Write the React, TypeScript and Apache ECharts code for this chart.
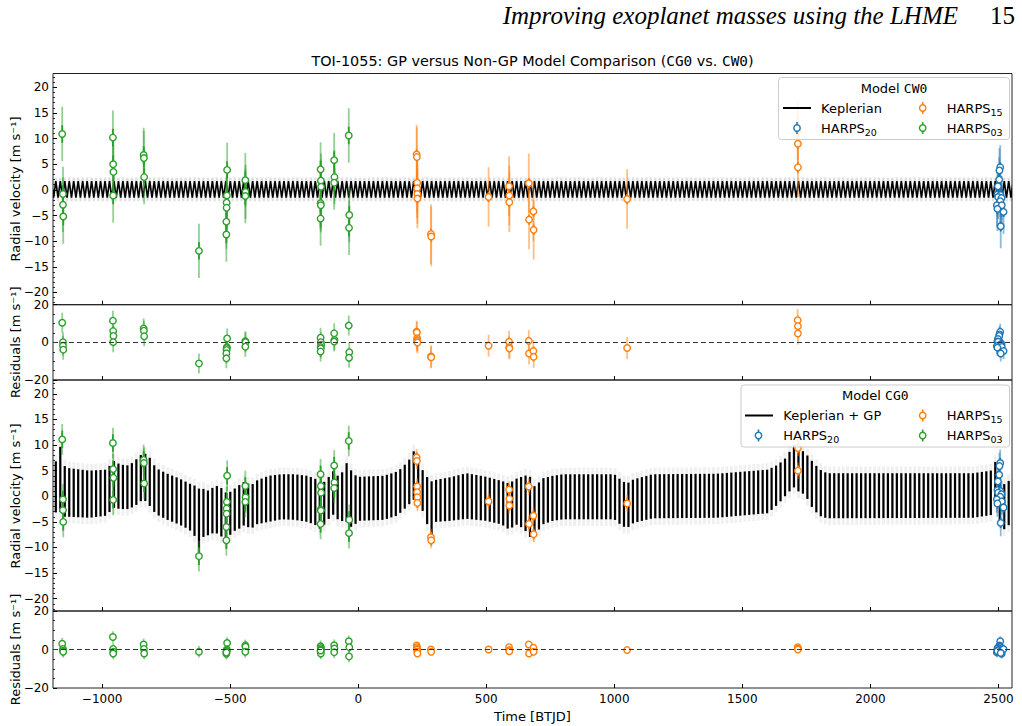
import React, { useEffect, useRef } from 'react';
import * as echarts from 'echarts';

// ---------------- axes ----------------
const X_MIN = -1192;
const X_MAX = 2553;
const X_TICKS = [-1000, -500, 0, 500, 1000, 1500, 2000, 2500];
const RV_MIN = -22.4;
const RV_MAX = 22.7;
const RV_TICKS = [-20, -15, -10, -5, 0, 5, 10, 15, 20];
const RV_MINOR = [-22, -21, -19, -18, -17, -16, -14, -13, -12, -11, -9, -8, -7, -6, -4, -3, -2, -1,
  1, 2, 3, 4, 6, 7, 8, 9, 11, 12, 13, 14, 16, 17, 18, 19, 21, 22];
const RES_MIN = -20;
const RES_MAX = 20;
const RES_TICKS = [-20, 0, 20];
const RES_MINOR = [-15, -10, -5, 5, 10, 15];

// ---------------- Keplerian model (TOI-1055 b) ----------------
const KEP_PERIOD = 17.47;
const KEP_T0 = -1181;
const KEP_TOP = 1.7;
const KEP_BOT = -1.5;

// ---------------- Keplerian + GP model envelope ----------------
const GP_T = [-1192, -1175, -1162, -1150, -1130, -1050, -985, -970, -958, -930, -895, -860, -840, -820, -790,
  -750, -700, -660, -635, -622, -608, -580, -560, -530, -513, -495, -470, -441, -420, -400, -350, -300, -250,
  -200, -170, -146, -125, -100, -80, -55, -40, -25, 0, 100, 150, 170, 200, 220, 237, 250, 265, 276, 284, 295,
  303, 358, 423, 500, 560, 589, 620, 650, 667, 690, 720, 760, 800, 1000, 1030, 1050, 1075, 1150, 1400, 1600,
  1640, 1670, 1700, 1717, 1745, 1770, 1800, 1830, 2400, 2470, 2487, 2500, 2515, 2535, 2553];
const GP_TOP = [6.5, 7.0, 10.0, 6.0, 5.5, 5.0, 5.2, 6.0, 7.0, 6.2, 6.0, 7.5, 8.5, 8.0, 5.5,
  4.5, 3.5, 2.5, 2.0, 1.5, 1.5, 1.0, 2.2, 1.5, 0.5, 1.0, 2.0, 3.0, 2.0, 3.0, 4.0, 4.3, 4.3,
  4.0, 3.5, 2.5, 3.0, 5.0, 4.0, 5.0, 7.3, 4.5, 3.8, 4.0, 4.8, 5.5, 7.2, 9.1, 6.8, 5.2, 4.2, 3.0, 2.9, 3.0,
  3.2, 3.7, 4.5, 3.8, 3.0, 2.5, 3.5, 4.0, 4.2, 1.8, 3.5, 4.0, 4.3, 4.3, 3.0, 2.5, 3.3, 4.3, 4.4, 5.2,
  6.2, 7.5, 10.0, 9.5, 8.5, 7.0, 5.3, 4.5, 4.5, 5.0, 6.8, 5.0, 2.0, 3.0, 3.0];
const GP_BOT = [-2.5, -3.5, -3.0, -4.0, -4.0, -4.2, -3.8, -3.0, -2.2, -2.5, -2.5, -1.5, -0.5, -1.5, -3.5,
  -4.5, -5.5, -6.5, -8.0, -11.0, -8.0, -7.5, -7.0, -8.0, -9.0, -7.0, -6.5, -5.5, -6.5, -5.5, -5.0, -4.5, -4.6,
  -5.0, -5.5, -6.5, -5.0, -3.5, -4.5, -5.0, -5.0, -6.2, -4.8, -4.6, -3.8, -3.0, -1.5, -0.5, -1.1, -2.7, -4.2, -7.6, -9.0, -5.5,
  -5.0, -4.8, -4.4, -4.8, -5.5, -6.5, -5.5, -6.5, -8.0, -7.6, -5.5, -4.8, -4.5, -4.5, -5.8, -6.2, -5.2, -4.3, -4.2, -3.3,
  -1.5, 0.2, 1.8, 1.0, 0.3, -2.0, -3.8, -4.3, -4.2, -3.7, -1.8, -4.0, -7.0, -5.5, -6.0];

// ---------------- HARPS03 (green) ----------------
const H03_T = [-1156, -1153, -1153, -1152, -958, -957, -956, -957, -838, -837, -836, -622, -512, -513, -514, -514,
  -515, -515, -441, -440, -441, -147, -146, -145, -147, -146, -147, -94, -93, -94, -37, -35, -36];
const H03_RV_CW0 = [10.9, -0.8, -2.9, -5.2, 10.2, 5.0, 3.5, -1.1, 6.8, 6.2, 2.5, -11.9, 3.9, -1.1, -2.5, -3.5,
  -6.2, -8.7, 1.9, -0.4, -1.2, 4.0, 1.8, 0.6, -2.6, -3.0, -5.6, 5.8, 2.5, 1.4, 10.6, -4.9, -7.4];
const H03_RES_CW0 = [10.4, 0.1, -1.8, -3.9, 11.5, 6.0, 3.4, 0.1, 7.4, 6.2, 3.2, -11.2, 2.1, -2.6, -3.1, -4.0,
  -5.8, -8.5, 0.6, 0.1, -2.3, 2.5, 0.1, -1.3, -2.5, -3.2, -4.9, 4.8, 1.3, 0.4, 8.9, -5.2, -8.2];
const H03_RV_CG0 = [11.1, -0.6, -2.7, -5.0, 10.4, 5.3, 3.6, -0.7, 7.1, 6.5, 2.5, -11.7, 4.0, -1.1, -2.4, -3.4,
  -6.0, -8.6, 2.0, -0.2, -1.1, 4.3, 2.0, 0.7, -2.6, -2.8, -5.4, 6.0, 2.7, 1.6, 10.8, -4.6, -7.2];
const H03_RES_CG0 = [3.0, 0.3, -0.6, -1.2, 6.5, 0.3, -1.2, -2.1, 2.6, 0.3, -2.1, -1.2, 3.4, 0.0, -0.6, -1.2,
  -2.2, -1.6, 2.1, 1.4, -1.2, 1.7, 0.8, 0.0, -1.2, -2.1, -0.5, 2.2, 0.5, -1.4, 4.3, 1.2, -3.6];

// ---------------- HARPS15 (orange) ----------------
const H15_T = [228, 229, 230, 230, 231, 231, 284, 285, 509, 589, 590, 590, 666, 667, 684, 685, 1050, 1716, 1717, 1717];
const H15_RV_CW0 = [6.9, 6.4, 1.4, 0.3, -0.8, -1.7, -8.6, -9.1, -1.4, 0.7, -1.1, -2.4, 1.3, -5.8, -4.2, -7.8, -1.8, 11.6, 9.0, 4.4];
const H15_RES_CW0 = [5.7, 5.2, 2.2, 1.2, 0.8, -0.1, -7.5, -7.9, -1.8, 0.3, -2.6, -3.2, 0.8, -5.9, -4.6, -7.7, -3.0, 11.8, 8.6, 4.7];
const H15_RV_CG0 = [7.6, 6.9, 1.9, 0.8, -0.2, -1.3, -8.0, -8.6, -1.0, 1.3, -0.5, -1.8, 1.9, -5.4, -3.8, -7.4, -1.4, 12.0, 9.4, 5.0];
const H15_RES_CG0 = [2.1, 1.2, 0.4, 0.0, -1.0, -2.1, 0.0, -1.2, 0.0, 1.2, -0.3, -0.9, 2.6, -2.1, 0.9, -1.2, -0.3, 1.2, 0.5, 0.0];

// ---------------- HARPS20 (blue) ----------------
const H20_T = [2507, 2504, 2503, 2498, 2496, 2508, 2499, 2512, 2507, 2494, 2513, 2496, 2520, 2509];
const H20_RV_CW0 = [4.4, 3.8, 2.0, 0.7, -0.9, -1.0, -1.4, -1.6, -2.2, -3.0, -3.0, -3.7, -4.3, -7.1];
const H20_RES_CW0 = [5.6, 4.2, 3.4, 1.8, 0.5, -0.2, 0.3, -1.0, -1.2, -2.0, -2.4, -2.8, -4.6, -5.9];
const H20_RV_CG0 = [6.5, 5.9, 4.2, 2.9, 1.2, 1.0, 0.7, 0.4, -0.1, -0.6, -1.0, -1.4, -2.2, -5.2];
const H20_RES_CG0 = [4.3, 2.1, 1.5, 0.9, 0.4, 0.0, -0.3, -0.6, -1.2, -1.5, -2.1, -0.8, 0.2, -1.8];

// ---------------- error bars (m/s) ----------------
const ERR_IN_03 = 1.7;
const ERR_IN_15 = 1.0;
const ERR_IN_20 = 1.0;
const ERR_OUT_03_CW0 = 5.3;
const ERR_OUT_15_CW0 = 5.8;
const ERR_OUT_20_CW0 = 4.3;
const ERR_OUT_03_CG0 = 3.0;
const ERR_OUT_15_CG0 = 1.6;
const ERR_OUT_20_CG0 = 2.6;

// ---------------- style ----------------
const C20 = '#1f77b4';
const C15 = '#ff7f0e';
const C03 = '#2ca02c';
const C20_L = 'rgba(31,119,180,0.5)';
const C15_L = 'rgba(255,127,14,0.5)';
const C03_L = 'rgba(44,160,44,0.5)';
const FONT = '"DejaVu Sans", sans-serif';
const MONO = '"DejaVu Sans Mono", monospace';

const PLOT_L = 53;
const PLOT_W = 959;
const GRIDS = [
  { top: 73.5, height: 231.2 },
  { top: 304.7, height: 75.3 },
  { top: 380, height: 231 },
  { top: 611, height: 77 },
];

const fmtMinus = (v: number) => (v < 0 ? '\u2212' + Math.abs(v) : String(v));

function errRender(color: string, light: string) {
  return (_params: any, api: any) => {
    const t = api.value(0), y = api.value(1), ei = api.value(2), eo = api.value(3);
    const a = api.coord([t, y + eo]);
    const b = api.coord([t, y - eo]);
    const c = api.coord([t, y + ei]);
    const d = api.coord([t, y - ei]);
    return {
      type: 'group',
      children: [
        { type: 'line', shape: { x1: a[0], y1: a[1], x2: b[0], y2: b[1] }, style: { stroke: light, lineWidth: 1.8 } },
        { type: 'line', shape: { x1: c[0], y1: c[1], x2: d[0], y2: d[1] }, style: { stroke: color, lineWidth: 1.8 } },
      ],
    };
  };
}

function keplerRender(_params: any, api: any) {
  const t0 = api.value(0), t1 = api.value(1), top = api.value(2), bot = api.value(3);
  const pts: number[][] = [];
  const halo: number[][] = [];
  let k = 0;
  for (let t = KEP_T0 - KEP_PERIOD; t <= t1 + KEP_PERIOD; t += KEP_PERIOD / 2, k++) {
    if (t < t0 - KEP_PERIOD) continue;
    const up = k % 2 === 0;
    pts.push(api.coord([t, up ? top : bot]));
    halo.push(api.coord([t, up ? top + 0.7 : bot - 0.7]));
  }
  return {
    type: 'group',
    children: [
      { type: 'polyline', shape: { points: halo }, style: { stroke: 'rgba(0,0,0,0.12)', lineWidth: 2.2, fill: 'none' } },
      { type: 'polyline', shape: { points: pts }, style: { stroke: '#000', lineWidth: 1.6, fill: 'none' } },
    ],
  };
}

function gpRender(_params: any, api: any) {
  const tS = api.value(0), tE = api.value(1);
  const topS = api.value(2), topE = api.value(3), botS = api.value(4), botE = api.value(5);
  const children: any[] = [];
  const kStart = Math.ceil((tS - KEP_T0) / KEP_PERIOD);
  for (let k = kStart; k < kStart + 1000; k++) {
    const t = KEP_T0 + k * KEP_PERIOD;
    if (t >= tE) break;
    const f = (t - tS) / (tE - tS);
    const top = topS + f * (topE - topS);
    const bot = botS + f * (botE - botS);
    const p = api.coord([t, top]);
    const q = api.coord([t, bot]);
    const ph = api.coord([t, top + 1.3]);
    const qh = api.coord([t, bot - 1.3]);
    children.push({
      type: 'rect',
      shape: { x: p[0] - 1.5, y: ph[1], width: 3.0, height: qh[1] - ph[1] },
      style: { fill: 'rgba(0,0,0,0.06)' },
    });
    children.push({
      type: 'rect',
      shape: { x: p[0] - 1.1, y: p[1], width: 2.2, height: q[1] - p[1] },
      style: { fill: '#000' },
    });
  }
  return { type: 'group', children };
}

function errSeries(panel: number, t: number[], v: number[], eIn: number, eOut: number, color: string, light: string, extra: any = {}) {
  return {
    type: 'custom',
    xAxisIndex: panel,
    yAxisIndex: panel * 2,
    clip: true,
    silent: true,
    z: 3,
    data: t.map((tt, i) => [tt, v[i], eIn, eOut]),
    encode: { x: 0, y: 1 },
    renderItem: errRender(color, light),
    ...extra,
  };
}

function markerSeries(panel: number, t: number[], v: number[], color: string) {
  return {
    type: 'scatter',
    xAxisIndex: panel,
    yAxisIndex: panel * 2,
    silent: true,
    z: 4,
    symbol: 'circle',
    symbolSize: 6.5,
    itemStyle: { color: '#fff', borderColor: color, borderWidth: 1.4, opacity: 1 },
    data: t.map((tt, i) => [tt, v[i]]),
  };
}

const zeroLine = {
  markLine: {
    silent: true,
    symbol: 'none',
    label: { show: false },
    lineStyle: { type: [5, 3], color: '#333', width: 1.2 },
    data: [{ yAxis: 0 }],
  },
};

function legendHandle(x: number, y: number, color: string) {
  return [
    { type: 'line', z: 102, shape: { x1: x, y1: y - 6, x2: x, y2: y + 6 }, style: { stroke: color, lineWidth: 1.6 } },
    { type: 'circle', z: 103, shape: { cx: x, cy: y, r: 3.2 }, style: { fill: '#fff', stroke: color, lineWidth: 1.4 } },
  ];
}

function legendText(x: number, y: number, text: string) {
  return {
    type: 'text', z: 103, x, y,
    style: {
      text, fill: '#000', fontSize: 13, fontFamily: FONT, align: 'left', verticalAlign: 'middle', lineHeight: 18,
      rich: {
        s: { fontSize: 9.5, fontFamily: FONT, fill: '#000', verticalAlign: 'bottom', lineHeight: 18 },
      },
    },
  };
}

function legendBlock(bx: number, by: number, bw: number, title: string, modelLabel: string, lineX0: number, lineX1: number, col1Text: number, col1Handle: number) {
  const r1 = by + 30.5;
  const r2 = by + 50.5;
  return [
    { type: 'rect', z: 100, shape: { x: bx, y: by, width: bw, height: 62, r: 3 }, style: { fill: 'rgba(255,255,255,0.85)', stroke: '#cccccc', lineWidth: 1 } },
    {
      type: 'text', z: 103, x: bx + bw / 2, y: by + 10.5,
      style: {
        text: 'Model {m|' + title + '}', fill: '#000', fontSize: 13, fontFamily: FONT, align: 'center', verticalAlign: 'middle',
        rich: { m: { fontFamily: MONO, fontSize: 13, fill: '#000' } },
      },
    },
    { type: 'line', z: 102, shape: { x1: lineX0, y1: r1, x2: lineX1, y2: r1 }, style: { stroke: '#000', lineWidth: 2 } },
    legendText(col1Text, r1, modelLabel),
    ...legendHandle(col1Handle, r2, C20),
    legendText(col1Text, r2, 'HARPS{s|20}'),
    ...legendHandle(922.7, r1, C15),
    legendText(946.7, r1, 'HARPS{s|15}'),
    ...legendHandle(922.7, r2, C03),
    legendText(946.7, r2, 'HARPS{s|03}'),
  ];
}

function yAxes(grid: number, min: number, max: number, ticks: number[], minor: number[]) {
  return [
    {
      type: 'value', gridIndex: grid, min, max, position: 'left',
      axisLine: { show: false, onZero: false },
      axisTick: { show: true, inside: true, length: 4, customValues: ticks, lineStyle: { color: '#000', width: 1 } },
      axisLabel: { show: true, customValues: ticks, color: '#000', fontSize: 12, fontFamily: FONT, margin: 4, formatter: fmtMinus },
      splitLine: { show: false },
    },
    {
      type: 'value', gridIndex: grid, min, max, position: 'left',
      axisLine: { show: false, onZero: false },
      axisTick: { show: true, inside: true, length: 2, customValues: minor, lineStyle: { color: '#000', width: 0.8 } },
      axisLabel: { show: false },
      splitLine: { show: false },
    },
  ];
}

export default function App() {
  const ref = useRef<HTMLDivElement>(null);

  useEffect(() => {
    if (!ref.current) return;
    const chart = echarts.init(ref.current, undefined, { renderer: 'svg' });

    const grid = GRIDS.map((g) => ({
      left: PLOT_L, top: g.top, width: PLOT_W, height: g.height,
      show: true, borderColor: '#222', borderWidth: 1, backgroundColor: 'transparent',
      containLabel: false,
    }));

    const xAxis = GRIDS.map((_g, i) => ({
      type: 'value', gridIndex: i, min: X_MIN, max: X_MAX, position: 'bottom',
      axisLine: { show: false, onZero: false },
      axisTick: { show: true, inside: true, length: 4, customValues: X_TICKS, lineStyle: { color: '#000', width: 1 } },
      axisLabel: { show: i === 3, customValues: X_TICKS, color: '#000', fontSize: 12, fontFamily: FONT, margin: 5, formatter: fmtMinus },
      splitLine: { show: false },
    }));

    const yAxis = [
      ...yAxes(0, RV_MIN, RV_MAX, RV_TICKS, RV_MINOR),
      ...yAxes(1, RES_MIN, RES_MAX, RES_TICKS, RES_MINOR),
      ...yAxes(2, RV_MIN, RV_MAX, RV_TICKS, RV_MINOR),
      ...yAxes(3, RES_MIN, RES_MAX, RES_TICKS, RES_MINOR),
    ];

    const gpData = GP_T.slice(0, -1).map((t, i) => [t, GP_T[i + 1], GP_TOP[i], GP_TOP[i + 1], GP_BOT[i], GP_BOT[i + 1]]);

    const series: any[] = [
      // Panel 0: CW0 RV
      {
        type: 'custom', xAxisIndex: 0, yAxisIndex: 0, clip: true, silent: true, z: 2,
        data: [[X_MIN, X_MAX, KEP_TOP, KEP_BOT]], encode: { x: [0, 1], y: [2, 3] }, renderItem: keplerRender,
      },
      errSeries(0, H03_T, H03_RV_CW0, ERR_IN_03, ERR_OUT_03_CW0, C03, C03_L),
      errSeries(0, H15_T, H15_RV_CW0, ERR_IN_15, ERR_OUT_15_CW0, C15, C15_L),
      errSeries(0, H20_T, H20_RV_CW0, ERR_IN_20, ERR_OUT_20_CW0, C20, C20_L),
      markerSeries(0, H03_T, H03_RV_CW0, C03),
      markerSeries(0, H15_T, H15_RV_CW0, C15),
      markerSeries(0, H20_T, H20_RV_CW0, C20),
      // Panel 1: CW0 residuals
      errSeries(1, H03_T, H03_RES_CW0, ERR_IN_03, ERR_OUT_03_CW0, C03, C03_L, zeroLine),
      errSeries(1, H15_T, H15_RES_CW0, ERR_IN_15, ERR_OUT_15_CW0, C15, C15_L),
      errSeries(1, H20_T, H20_RES_CW0, ERR_IN_20, ERR_OUT_20_CW0, C20, C20_L),
      markerSeries(1, H03_T, H03_RES_CW0, C03),
      markerSeries(1, H15_T, H15_RES_CW0, C15),
      markerSeries(1, H20_T, H20_RES_CW0, C20),
      // Panel 2: CG0 RV
      {
        type: 'custom', xAxisIndex: 2, yAxisIndex: 4, clip: true, silent: true, z: 2,
        data: gpData, encode: { x: [0, 1], y: [2, 3, 4, 5] }, renderItem: gpRender,
      },
      errSeries(2, H03_T, H03_RV_CG0, ERR_IN_03, ERR_OUT_03_CG0, C03, C03_L),
      errSeries(2, H15_T, H15_RV_CG0, ERR_IN_15, ERR_OUT_15_CG0, C15, C15_L),
      errSeries(2, H20_T, H20_RV_CG0, ERR_IN_20, ERR_OUT_20_CG0, C20, C20_L),
      markerSeries(2, H03_T, H03_RV_CG0, C03),
      markerSeries(2, H15_T, H15_RV_CG0, C15),
      markerSeries(2, H20_T, H20_RV_CG0, C20),
      // Panel 3: CG0 residuals
      errSeries(3, H03_T, H03_RES_CG0, ERR_IN_03, ERR_OUT_03_CG0, C03, C03_L, zeroLine),
      errSeries(3, H15_T, H15_RES_CG0, ERR_IN_15, ERR_OUT_15_CG0, C15, C15_L),
      errSeries(3, H20_T, H20_RES_CG0, ERR_IN_20, ERR_OUT_20_CG0, C20, C20_L),
      markerSeries(3, H03_T, H03_RES_CG0, C03),
      markerSeries(3, H15_T, H15_RES_CG0, C15),
      markerSeries(3, H20_T, H20_RES_CG0, C20),
    ];

    const vLabel = (x: number, y: number, text: string) => ({
      type: 'text', z: 50, x, y, rotation: Math.PI / 2,
      style: { text, fill: '#000', fontSize: 13, fontFamily: FONT, align: 'center', verticalAlign: 'middle' },
    });

    const graphic: any[] = [
      {
        type: 'text', z: 50, x: 958, y: 15,
        style: { text: 'Improving exoplanet masses using the LHME', fill: '#000', fontSize: 25, fontStyle: 'italic', fontFamily: '"Liberation Serif", serif', align: 'right', verticalAlign: 'middle' },
      },
      {
        type: 'text', z: 50, x: 1015, y: 15,
        style: { text: '15', fill: '#000', fontSize: 25, fontFamily: '"Liberation Serif", serif', align: 'right', verticalAlign: 'middle' },
      },
      {
        type: 'text', z: 50, x: PLOT_L + PLOT_W / 2, y: 61,
        style: {
          text: 'TOI-1055: GP versus Non-GP Model Comparison ({m|CG0} vs. {m|CW0})',
          fill: '#000', fontSize: 14.4, fontFamily: FONT, align: 'center', verticalAlign: 'middle',
          rich: { m: { fontFamily: MONO, fontSize: 14.4, fill: '#000' } },
        },
      },
      vLabel(15, 189, 'Radial velocity [m s\u207B\u00B9]'),
      vLabel(15, 342.3, 'Residuals [m s\u207B\u00B9]'),
      vLabel(15, 496, 'Radial velocity [m s\u207B\u00B9]'),
      vLabel(15, 649.5, 'Residuals [m s\u207B\u00B9]'),
      {
        type: 'text', z: 50, x: PLOT_L + PLOT_W / 2, y: 716,
        style: { text: 'Time [BTJD]', fill: '#000', fontSize: 13, fontFamily: FONT, align: 'center', verticalAlign: 'middle' },
      },
      ...legendBlock(778.5, 77.5, 231, 'CW0', 'Keplerian', 783, 811, 821, 797),
      ...legendBlock(741, 385, 268.5, 'CG0', 'Keplerian + GP', 745, 773, 783.3, 758.5),
    ];

    chart.setOption({
      animation: false,
      backgroundColor: '#fff',
      textStyle: { fontFamily: FONT },
      grid,
      xAxis,
      yAxis,
      series,
      graphic,
    });

    return () => chart.dispose();
  }, []);

  return <div ref={ref} style={{ position: 'fixed', left: 0, top: 0, width: 1022, height: 726, background: '#fff' }} />;
}
